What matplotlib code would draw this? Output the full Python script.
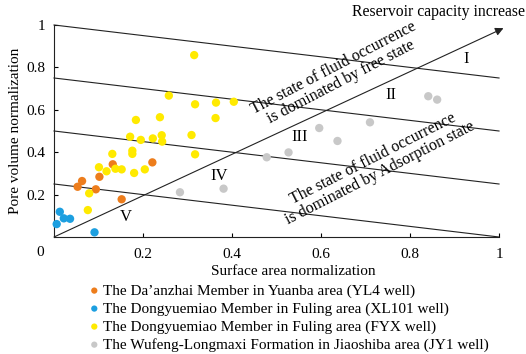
import numpy as np
import matplotlib
matplotlib.use('Agg')
import matplotlib.pyplot as plt

plt.rcParams['font.family'] = 'Liberation Serif'
plt.rcParams['font.size'] = 11

# data
yl4_x = [0.053, 0.063, 0.094, 0.102, 0.132, 0.152, 0.221]
yl4_y = [0.237, 0.264, 0.225, 0.284, 0.343, 0.178, 0.352]

xl101_x = [0.006, 0.013, 0.022, 0.036, 0.091]
xl101_y = [0.061, 0.119, 0.088, 0.086, 0.022]

fyx_x = [0.315, 0.258, 0.317, 0.364, 0.404, 0.363, 0.238, 0.184, 0.171, 0.195,
         0.222, 0.242, 0.243, 0.309, 0.176, 0.176, 0.131, 0.317, 0.101, 0.118,
         0.138, 0.152, 0.180, 0.204, 0.079, 0.076]
fyx_y = [0.858, 0.667, 0.626, 0.634, 0.638, 0.561, 0.565, 0.552, 0.473, 0.458,
         0.465, 0.480, 0.450, 0.481, 0.407, 0.392, 0.392, 0.390, 0.329, 0.310,
         0.322, 0.319, 0.302, 0.319, 0.206, 0.127]

jy1_x = [0.283, 0.381, 0.478, 0.527, 0.596, 0.637, 0.710, 0.841, 0.861]
jy1_y = [0.211, 0.228, 0.376, 0.399, 0.514, 0.453, 0.541, 0.664, 0.648]

# boundary lines: start at (0, a), end at (1, a - 0.25)
line_starts = [1.0, 0.75, 0.5, 0.25]

zone_labels = ['I', 'II', 'III', 'IV', 'V']
zone_x = [0.926, 0.757, 0.553, 0.37, 0.162]
zone_y = [0.84, 0.67, 0.47, 0.29, 0.095]

labels = ["The Da\u2019anzhai Member in Yuanba area (YL4 well)",
          "The Dongyuemiao Member in Fuling area (XL101 well)",
          "The Dongyuemiao Member in Fuling area (FYX well)",
          "The Wufeng-Longmaxi Formation in Jiaoshiba area (JY1 well)"]
colors = ['#ED7D1C', '#1C9FE0', '#FFEA00', '#C8C8C8']

fig = plt.figure(figsize=(5.26, 3.54), dpi=100)
ax = fig.add_axes([0.1027, 0.3305, 0.846, 0.5989])
ax.set_xlim(0, 1)
ax.set_ylim(0, 1)

for a in line_starts:
    ax.plot([0, 1], [a, a - 0.25], color='#222222', lw=0.8, clip_on=False)

ax.annotate('', xy=(1.01, 0.985), xytext=(0, 0),
            arrowprops=dict(arrowstyle='-|>', color='#222222', lw=0.8,
                            mutation_scale=12, shrinkA=0, shrinkB=0),
            annotation_clip=False)

series = [(yl4_x, yl4_y), (xl101_x, xl101_y), (fyx_x, fyx_y), (jy1_x, jy1_y)]
for (xs, ys), c, lab in zip(series, colors, labels):
    ax.scatter(xs, ys, s=36, color=c, edgecolors='none', label=lab, zorder=3,
               clip_on=False)

for t, x, y in zip(zone_labels, zone_x, zone_y):
    ax.text(x, y, t, ha='center', va='center', fontsize=12)

ax.text(0.636, 0.765, 'The state of fluid occurrence\nis dominated by free state',
        rotation=27.5, ha='center', va='center', rotation_mode='anchor',
        linespacing=0.95, fontsize=11.5)
ax.text(0.724, 0.335, 'The state of fluid occurrence\nis dominated by Adsorption state',
        rotation=27, ha='center', va='center', rotation_mode='anchor',
        linespacing=0.95, fontsize=11.5)
ax.text(0.863, 1.061, 'Reservoir capacity increase', ha='center', va='center',
        transform=ax.transAxes, fontsize=11.3)

ax.set_xticks([0.2, 0.4, 0.6, 0.8, 1.0])
ax.set_xticklabels(['0.2', '0.4', '0.6', '0.8', '1'])
ax.set_yticks([0.2, 0.4, 0.6, 0.8, 1.0])
ax.set_yticklabels(['0.2', '0.4', '0.6', '0.8', '1'])
ax.tick_params(direction='in', length=3, width=0.8, labelsize=11)
ax.tick_params(axis='x', pad=8)
ax.tick_params(axis='y', pad=6)
ax.text(-0.031, -0.075, '0', transform=ax.transAxes, ha='center', va='center',
        fontsize=11)
for s in ['top', 'right']:
    ax.spines[s].set_visible(False)
for s in ['left', 'bottom']:
    ax.spines[s].set_linewidth(0.8)
    ax.spines[s].set_color('#222222')

ax.set_ylabel('Pore volume normalization', fontsize=11)
ax.yaxis.set_label_coords(-0.071, 0.5)
ax.set_xlabel('Surface area normalization', fontsize=11)
ax.xaxis.set_label_coords(0.537, -0.13)

leg = fig.legend(loc='upper left', bbox_to_anchor=(0.172, 0.198), frameon=False,
                 handlelength=0.5, handletextpad=0.35, labelspacing=0.27,
                 borderpad=0, borderaxespad=0, markerscale=0.75, fontsize=11)

fig.savefig('out.png', dpi=100)
